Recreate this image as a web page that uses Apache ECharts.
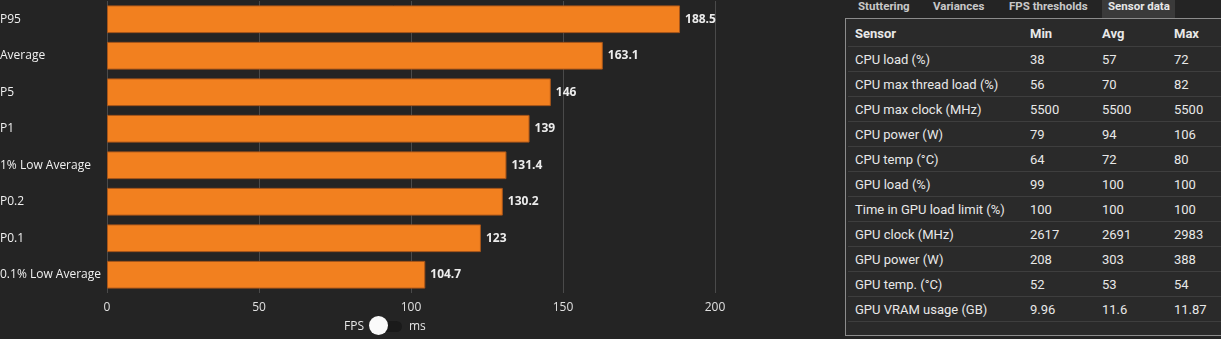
<!DOCTYPE html>
<html>
<head>
<meta charset="utf-8">
<script src="https://cdn.jsdelivr.net/npm/echarts@6/dist/echarts.min.js"></script>
<style>
  html, body { margin: 0; padding: 0; background: #242424; width: 1221px; height: 339px; overflow: hidden; }
  #chart { position: absolute; left: 0; top: 0; width: 780px; height: 339px; }
  .toggle { position: absolute; left: 344px; top: 316px; height: 20px; font-family: "Open Sans", sans-serif; font-size: 12px; color: #e6e6e6; }
  .toggle span { position: absolute; top: 1px; }
  .track { position: absolute; left: 34px; top: 5px; width: 24px; height: 11px; background: #1a1a1a; border-radius: 6px; }
  .knob { position: absolute; left: 25px; top: 0px; width: 19px; height: 19px; background: #fafafa; border-radius: 50%; }
  .tabs { position: absolute; left: 845px; top: 0; height: 18px; font-family: Roboto, sans-serif; font-weight: bold; font-size: 11.5px; color: #c8c8c8; }
  .tab { position: absolute; top: -2px; height: 20px; line-height: 16px; white-space: nowrap; }
  .tab.active { background: #3a3a3a; color: #e8e8e8; }
  .panel { position: absolute; left: 845px; top: 18px; width: 380px; height: 316px; border: 1px solid #8c8c8c; background: #2a2a2a; }
  table { position: absolute; left: 2px; top: 0; width: 378px; border-collapse: collapse; table-layout: fixed; font-family: Roboto, sans-serif; font-size: 13px; color: #e8e8e8; }
  th { font-weight: bold; text-align: left; height: 26px; padding: 1px 0 0 7px; border-bottom: 1px solid #3e3e3e; }
  td { text-align: left; height: 24px; padding: 0 0 0 7px; border-bottom: 1px solid #3e3e3e; white-space: nowrap; }
</style>
</head>
<body>
<div id="chart"></div>
<div class="toggle"><span style="left:0">FPS</span><div class="track"></div><div class="knob"></div><span style="left:65px">ms</span></div>
<div class="tabs" id="tabs"></div>
<div class="panel"><table id="sensors"></table></div>
<script>
// Frame-rate summary metrics (FPS)
const categories = ['P95', 'Average', 'P5', 'P1', '1% Low Average', 'P0.2', 'P0.1', '0.1% Low Average'];
const fpsValues = [188.5, 163.1, 146, 139, 131.4, 130.2, 123, 104.7];
const fpsTicks = [0, 50, 100, 150, 200];

// Tabs above the sensor table
const tabNames = ['Stuttering', 'Variances', 'FPS thresholds', 'Sensor data'];
const tabOffsets = [13, 88, 164, 257];

// Sensor data table
const sensorHeader = ['Sensor', 'Min', 'Avg', 'Max'];
const sensorNames = ['CPU load (%)', 'CPU max thread load (%)', 'CPU max clock (MHz)', 'CPU power (W)', 'CPU temp (°C)',
  'GPU load (%)', 'Time in GPU load limit (%)', 'GPU clock (MHz)', 'GPU power (W)', 'GPU temp. (°C)', 'GPU VRAM usage (GB)'];
const sensorMin = ['38', '56', '5500', '79', '64', '99', '100', '2617', '208', '52', '9.96'];
const sensorAvg = ['57', '70', '5500', '94', '72', '100', '100', '2691', '303', '53', '11.6'];
const sensorMax = ['72', '82', '5500', '106', '80', '100', '100', '2983', '388', '54', '11.87'];

const chart = echarts.init(document.getElementById('chart'));
chart.setOption({
  backgroundColor: 'transparent',
  animation: false,
  textStyle: { fontFamily: 'Open Sans, sans-serif' },
  grid: { left: 107, top: 1, width: 608, height: 292, containLabel: false, outerBoundsMode: 'none' },
  xAxis: {
    type: 'value',
    min: fpsTicks[0],
    max: fpsTicks[fpsTicks.length - 1],
    interval: fpsTicks[1] - fpsTicks[0],
    axisLine: { show: false },
    axisTick: { show: false },
    axisLabel: { color: '#e0e0e0', fontSize: 12, margin: 9 },
    splitLine: { lineStyle: { color: '#4a4a4a', width: 1 } }
  },
  yAxis: {
    type: 'category',
    inverse: true,
    data: categories,
    axisLine: { show: false },
    axisTick: { show: false },
    axisLabel: { color: '#f0f0f0', fontSize: 12, align: 'left', margin: 107 },
    splitLine: { show: false }
  },
  series: [{
    type: 'bar',
    data: fpsValues,
    barCategoryGap: '24%',
    itemStyle: { color: '#f2801f', borderColor: '#a9561a', borderWidth: 1 },
    label: {
      show: true,
      position: 'right',
      distance: 5,
      color: '#ececec',
      fontWeight: 'bold',
      fontSize: 12
    }
  }]
});

// tabs
const tabs = document.getElementById('tabs');
tabNames.forEach((name, i) => {
  const d = document.createElement('div');
  d.className = 'tab' + (i === tabNames.length - 1 ? ' active' : '');
  d.style.left = tabOffsets[i] + 'px';
  d.style.padding = i === tabNames.length - 1 ? '0 5px 0 6px' : '0';
  d.textContent = name;
  tabs.appendChild(d);
});

// sensor table
const table = document.getElementById('sensors');
const colgroup = document.createElement('colgroup');
[175, 72, 72, 59].forEach(w => { const c = document.createElement('col'); c.style.width = w + 'px'; colgroup.appendChild(c); });
table.appendChild(colgroup);
const head = document.createElement('tr');
sensorHeader.forEach(h => { const th = document.createElement('th'); th.textContent = h; head.appendChild(th); });
table.appendChild(head);
sensorNames.forEach((name, i) => {
  const tr = document.createElement('tr');
  [name, sensorMin[i], sensorAvg[i], sensorMax[i]].forEach(v => {
    const td = document.createElement('td'); td.textContent = v; tr.appendChild(td);
  });
  table.appendChild(tr);
});
</script>
</body>
</html>
